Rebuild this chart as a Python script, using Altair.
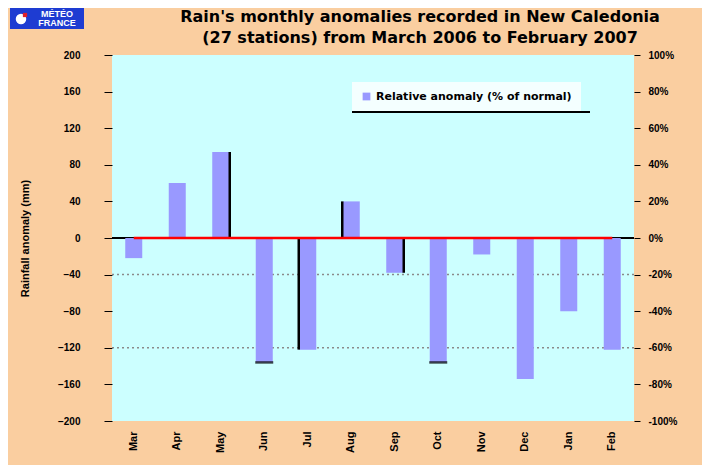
import altair as alt
import pandas as pd

# ---- data ----
months = ["Mar", "Apr", "May", "Jun", "Jul", "Aug", "Sep", "Oct", "Nov", "Dec", "Jan", "Feb"]
anomaly_pct = [-11, 30, 47, -68, -61, 20, -19, -68, -9, -77, -40, -61]
normal_line = [0, 0, 0, 0, 0, 0, 0, 0, 0, 0, 0, 0]
edge_side = ["", "", "right", "bottom", "left", "left", "right", "bottom", "", "", "", ""]
ref_lines_pct = [-20, -60]
left_ticks = list(range(-200, 201, 40))
right_ticks = list(range(-100, 101, 20))
series_name = "Relative anomaly (% of normal)"
title_line1 = "Rain's monthly anomalies recorded in New Caledonia"
title_line2 = "(27 stations) from March 2006 to February 2007"

FONT = "Liberation Sans"
TFONT = "DejaVu Sans"

df = pd.DataFrame({"month": months, "pct": anomaly_pct, "normal": normal_line,
                   "edge": edge_side})
df["series"] = series_name

xenc = alt.X("month:N", sort=months,
             scale=alt.Scale(paddingInner=0, paddingOuter=0),
             axis=alt.Axis(title=None, labelAngle=-90, labelAlign="right",
                           labelBaseline="middle", labelPadding=10, ticks=False,
                           domain=False, labelFont=FONT, labelFontSize=11,
                           labelFontWeight="bold", labelColor="black"))

right_axis = alt.Axis(orient="right", values=right_ticks, labelExpr="datum.value + '%'",
                      title=None, grid=False, domain=False, tickColor="black",
                      tickSize=6, labelPadding=8, labelFont=FONT, labelFontSize=10,
                      labelFontWeight="bold", labelColor="black")


def ys(field):
    return alt.Y(field, scale=alt.Scale(domain=[-100, 100], nice=False), axis=right_axis)


base = alt.Chart(df)

grid = alt.Chart(pd.DataFrame({"g": ref_lines_pct})).mark_rule(
    color="#8A8A8A", strokeDash=[2, 3], strokeWidth=1.5).encode(y=ys("g:Q"))

bars = base.mark_bar(size=17).encode(
    x=xenc, y=ys("pct:Q"),
    color=alt.Color("series:N",
                    scale=alt.Scale(domain=[series_name], range=["#9999FF"]),
                    legend=alt.Legend(orient="none", legendX=240, legendY=27, title=None,
                                      fillColor="#F4FFFF", padding=9, symbolType="square",
                                      symbolSize=60, labelFont=TFONT, labelFontSize=11,
                                      labelFontWeight="bold",
                                      labelColor="black", symbolStrokeWidth=0,
                                      labelLimit=300)))

edge_left = base.transform_filter("datum.edge == 'left'").mark_rule(
    color="black", strokeWidth=2.5, xOffset=-9).encode(x=xenc, y=ys("pct:Q"), y2=alt.datum(0))
edge_right = base.transform_filter("datum.edge == 'right'").mark_rule(
    color="black", strokeWidth=2.5, xOffset=9).encode(x=xenc, y=ys("pct:Q"), y2=alt.datum(0))
edge_bottom = base.transform_filter("datum.edge == 'bottom'").mark_tick(
    color="black", thickness=2.5, size=18, orient="horizontal").encode(x=xenc, y=ys("pct:Q"))

red = base.mark_line(color="#FF0000", strokeWidth=2.5).encode(x=xenc, y=ys("normal:Q"))

legend_line = alt.Chart(pd.DataFrame({"k": [0]})).mark_rule(color="black", strokeWidth=2).encode(
    x=alt.value(240), x2=alt.value(478), y=alt.value(57))

inner = alt.layer(grid, bars, edge_left, edge_right, edge_bottom, red, legend_line)

left = alt.Chart(pd.DataFrame({"mm": [0]})).mark_rule(color="black", strokeWidth=2).encode(
    y=alt.Y("mm:Q", scale=alt.Scale(domain=[-200, 200], nice=False),
            axis=alt.Axis(orient="left", values=left_ticks, title="Rainfall anomaly (mm)",
                          grid=False, domain=False, tickColor="black", tickSize=8,
                          labelPadding=24, labelFont=FONT, labelFontSize=10,
                          labelFontWeight="bold", labelColor="black",
                          titleFont=FONT, titleFontSize=11, titleFontWeight="bold",
                          titleColor="black", titleX=-87, titleY=183,
                          titleAlign="center", titleBaseline="middle", titleAngle=-90)))

# title as text
title1 = alt.Chart(pd.DataFrame({"t": [title_line1]})).mark_text(
    font=TFONT, fontSize=16, fontWeight="bold", color="black", align="center",
    baseline="middle").encode(text="t:N", x=alt.value(308), y=alt.value(-38))
title2 = alt.Chart(pd.DataFrame({"t": [title_line2]})).mark_text(
    font=TFONT, fontSize=16, fontWeight="bold", color="black", align="center",
    baseline="middle").encode(text="t:N", x=alt.value(308), y=alt.value(-17))

# logo
logo_box = alt.Chart(pd.DataFrame({"k": [0]})).mark_rect(color="#1E3CD2").encode(
    x=alt.value(-102), x2=alt.value(-28), y=alt.value(-47), y2=alt.value(-26))
logo_txt1 = alt.Chart(pd.DataFrame({"t": ["MÉTÉO"]})).mark_text(
    color="white", font=FONT, fontWeight="bold", fontSize=9).encode(
    text="t:N", x=alt.value(-55), y=alt.value(-41))
logo_txt2 = alt.Chart(pd.DataFrame({"t": ["FRANCE"]})).mark_text(
    color="white", font=FONT, fontWeight="bold", fontSize=9).encode(
    text="t:N", x=alt.value(-55), y=alt.value(-32))
logo_dot = alt.Chart(pd.DataFrame({"k": [0]})).mark_point(
    filled=True, color="white", size=110, shape="circle", opacity=1).encode(
    x=alt.value(-91), y=alt.value(-36))
logo_red = alt.Chart(pd.DataFrame({"k": [0]})).mark_point(
    filled=True, color="#E0202A", size=18, shape="square", opacity=1).encode(
    x=alt.value(-87), y=alt.value(-40))

outer_left = alt.layer(logo_box, logo_txt1, logo_txt2, logo_dot, logo_red,
                       title1, title2, left)

chart = alt.layer(outer_left, inner).resolve_scale(y="independent").properties(
    width=522, height=366,
    padding={"left": 104, "top": 47, "right": 68, "bottom": 44},
    autosize=alt.AutoSizeParams(type="none"),
    background="#FACEA0",
).configure_view(fill="#CCFFFF", stroke=None)

chart.save("out.html", embed_options={"renderer": "svg", "actions": False})
